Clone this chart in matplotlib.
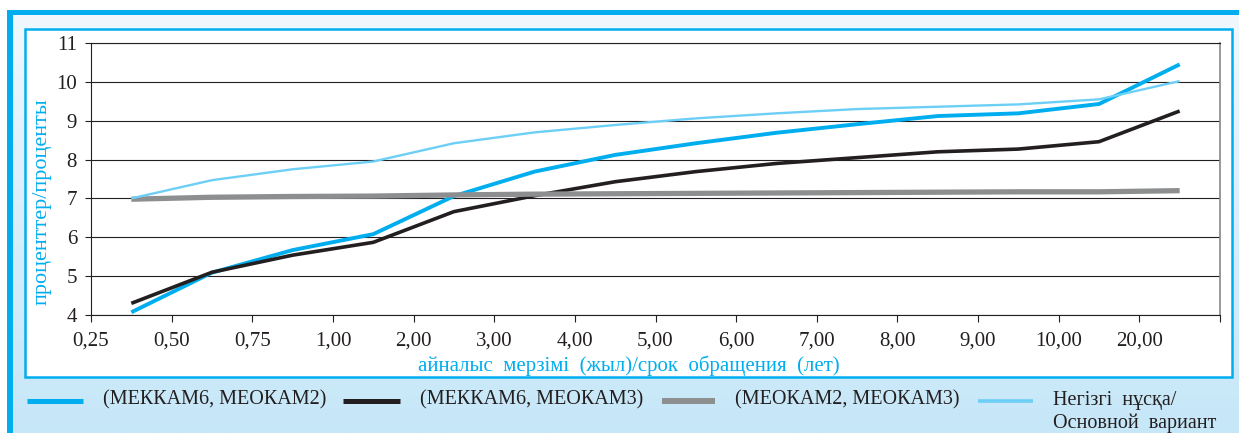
import numpy as np
import matplotlib
matplotlib.use("Agg")
import matplotlib.pyplot as plt
from matplotlib.patches import Rectangle
from matplotlib.lines import Line2D
from matplotlib.colors import LinearSegmentedColormap

plt.rcParams['font.family'] = ['Liberation Serif', 'DejaVu Serif']

# срок обращения (лет)
terms = ['0,25', '0,50', '0,75', '1,00', '2,00', '3,00', '4,00',
         '5,00', '6,00', '7,00', '8,00', '9,00', '10,00', '20,00']

# проценты
mekkam6_meokam2 = [4.07, 5.09, 5.67, 6.08, 7.06, 7.69, 8.12, 8.42, 8.69, 8.91, 9.12, 9.19, 9.43, 10.45]
mekkam6_meokam3 = [4.30, 5.10, 5.54, 5.87, 6.66, 7.07, 7.43, 7.69, 7.90, 8.05, 8.20, 8.27, 8.46, 9.25]
meokam2_meokam3 = [6.98, 7.03, 7.05, 7.06, 7.09, 7.11, 7.12, 7.13, 7.14, 7.15, 7.16, 7.17, 7.17, 7.20]
base_variant = [7.00, 7.47, 7.75, 7.95, 8.42, 8.70, 8.89, 9.06, 9.19, 9.30, 9.36, 9.42, 9.55, 10.02]

series_labels = ['(МЕККАМ6, МЕОКАМ2)', '(МЕККАМ6, МЕОКАМ3)',
                 '(МЕОКАМ2, МЕОКАМ3)', 'Негізгі  нұсқа/\nОсновной  вариант']

BLUE = '#00aeef'
BLACK = '#231f20'
GRAY = '#8d8e90'
LIGHT = '#6dcff6'

W, H = 1239, 433
fig = plt.figure(figsize=(W / 100, H / 100), dpi=100)

# фон / рамка
bg = fig.add_axes([0, 0, 1, 1])
bg.set_xlim(0, W)
bg.set_ylim(H, 0)
bg.axis('off')
cmap = LinearSegmentedColormap.from_list('bgfade', ['#f0f8fe', '#d8eefb', '#c6e7f8'])
bg.imshow(np.linspace(0, 1, 256).reshape(-1, 1), extent=(7, W, H, 12), cmap=cmap,
          aspect='auto', zorder=0)
bg.add_patch(Rectangle((7, 10), W - 7, 5, facecolor=BLUE, edgecolor='none', zorder=1))
bg.add_patch(Rectangle((7, 10), 6, H - 10, facecolor=BLUE, edgecolor='none', zorder=1))
bg.add_patch(Rectangle((25, 29), 1207, 348, facecolor='white', edgecolor=BLUE,
                       lw=1.8, zorder=1))

# график
ax = fig.add_axes([91 / W, 118 / H, 1129 / W, 272 / H])
ax.patch.set_alpha(0)
x = np.arange(len(terms)) + 0.5
styles = [(mekkam6_meokam2, BLUE, 2.8), (mekkam6_meokam3, BLACK, 2.6),
          (meokam2_meokam3, GRAY, 3.8), (base_variant, LIGHT, 1.7)]
order = [2, 1, 3, 0]
for i in order:
    vals, c, lw = styles[i]
    ax.plot(x, vals, color=c, lw=lw, solid_capstyle='butt', zorder=3 + i)

ax.set_xlim(0, len(terms))
ax.set_ylim(4, 11)
ax.set_xticks(np.arange(len(terms) + 1))
ax.set_xticklabels(terms + [''])
ax.set_yticks(range(4, 12))
ax.grid(axis='y', color=BLACK, lw=0.8)
ax.grid(axis='x', visible=False)
ax.set_axisbelow(True)
ax.tick_params(axis='x', direction='out', length=5, width=0.8, pad=7,
               labelsize=15, colors=BLACK)
ax.tick_params(axis='y', direction='out', length=4, width=0.8, pad=6,
               labelsize=15, colors=BLACK)
for s in ['left', 'bottom', 'top']:
    ax.spines[s].set_color(BLACK)
    ax.spines[s].set_linewidth(0.8)
ax.spines['right'].set_color('#888888')
ax.spines['right'].set_linewidth(1.2)

ax.set_ylabel('проценттер/проценты', color=BLUE, fontsize=16)
ax.yaxis.label.set_va('center')
ax.yaxis.set_label_coords(-0.0434, 0.415)
ax.set_xlabel('айналыс  мерзімі  (жыл)/срок  обращения  (лет)', color=BLUE, fontsize=15)
ax.xaxis.label.set_va('center')
ax.xaxis.set_label_coords(0.476, -0.1875)

# легенда
leg_pos = [(27, 83, 103), (343, 400, 420), (662, 715, 735), (978, 1033, 1053)]
leg_lw = [3.6, 3.6, 4.3, 2.6]
for i, (x0, x1, xt) in enumerate(leg_pos):
    c = styles[i][1]
    bg.add_line(Line2D([x0, x1], [401, 401], color=c, lw=leg_lw[i],
                       solid_capstyle='butt', zorder=2))
    for k, line in enumerate(series_labels[i].split('\n')):
        bg.text(xt, 400 + 23 * k, line, va='center', ha='left', fontsize=14.5,
                color=BLACK, zorder=2)

fig.savefig('out.png', dpi=100)
